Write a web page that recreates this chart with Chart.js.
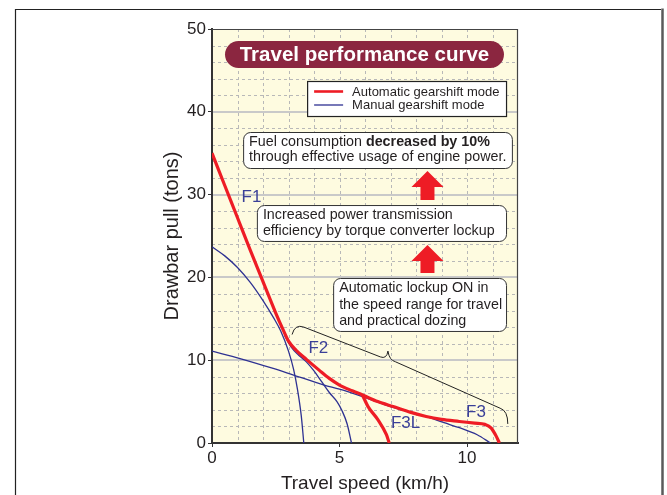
<!DOCTYPE html>
<html>
<head>
<meta charset="utf-8">
<script src="https://cdn.jsdelivr.net/npm/chart.js@4.4.1/dist/chart.umd.min.js"></script>
<style>
  html, body { margin: 0; padding: 0; background: #fff; }
  canvas { display: block; }
</style>
</head>
<body>
<canvas id="chart" width="667" height="495"></canvas>
<script>
// Travel performance curve : drawbar pull (tons) vs travel speed (km/h)

const FONT = "'Liberation Sans', Arial, Helvetica, sans-serif";

// Automatic gearshift mode (red) : F1 -> F2 -> F3 envelope
const autoSpeed = [0, 0.5, 1.0, 1.5, 2.0, 2.5, 2.8, 3.0, 3.3, 3.7, 4.2, 4.6, 5.0, 5.5, 5.9, 6.5, 7.1, 7.8, 8.4, 9.0, 9.7, 10.3, 10.7, 10.95, 11.15, 11.27];
const autoPull  = [35, 31.1, 27.2, 23.3, 19.5, 15.7, 13.6, 12.3, 11.2, 10.1, 8.8, 7.8, 7.0, 6.3, 5.8, 5.0, 4.4, 3.7, 3.2, 2.85, 2.6, 2.4, 2.25, 1.8, 0.8, 0];
// Automatic gearshift mode : F3L branch
const autoF3LSpeed = [5.9, 6.12, 6.51, 6.84, 6.95];
const autoF3LPull  = [5.8, 4.4, 2.8, 1.0, 0];

// Manual gearshift mode (blue)
const manF1Speed = [0, 0.5, 1.0, 1.5, 2.0, 2.4, 2.7, 3.0, 3.2, 3.35, 3.5, 3.6];
const manF1Pull  = [23.7, 22.6, 21.2, 19.4, 17.2, 15.2, 13.5, 11.1, 8.9, 6.5, 3.3, 0];
const manF2Speed = [2.85, 3.1, 3.4, 3.7, 4.0, 4.3, 4.6, 4.9, 5.1, 5.3, 5.47];
const manF2Pull  = [13.0, 11.6, 10.6, 9.8, 8.7, 7.4, 6.1, 5.0, 3.9, 2.3, 0];
const manF3Speed = [0, 1.1, 2.4, 3.2, 4.4, 5.0, 5.9, 7.0, 8.4, 9.1, 9.7, 10.4, 10.92];
const manF3Pull  = [11.1, 10.2, 9.0, 8.2, 7.0, 6.5, 5.6, 4.4, 3.2, 2.45, 1.85, 1.0, 0];

// Axes
const xTicks = [0, 5, 10];
const yTicks = [0, 10, 20, 30, 40, 50];

// Texts
const chartTitle  = 'Travel performance curve';
const modeNames   = ['Automatic gearshift mode', 'Manual gearshift mode'];
const gearNames   = ['F1', 'F2', 'F3L', 'F3'];
const boxTexts = [
  [[['Fuel consumption ', false], ['decreased by 10%', true]],
   [['through effective usage of engine power.', false]]],
  [[['Increased power transmission', false]],
   [['efficiency by torque converter lockup', false]]],
  [[['Automatic lockup ON in', false]],
   [['the speed range for travel', false]],
   [['and practical dozing', false]]]
];

const RED  = '#ee1c25';
const BLUE = '#2e3192';
const INK  = '#231f20';

const pts = (xs, ys) => xs.map((x, i) => ({ x, y: ys[i] }));

// Layout of annotations, in data units (speed, pull)
const layout = {
  title:  { x0: 0.51, x1: 11.45, y0: 48.55, y1: 45.29 },
  legend: { x0: 3.73, x1: 11.57, y0: 43.72, y1: 39.37 },
  boxes: [
    { x0: 1.22, x1: 11.80, y0: 37.56, y1: 33.09, lh: 15.3 },
    { x0: 1.76, x1: 11.57, y0: 28.74, y1: 24.28, lh: 15.7 },
    { x0: 4.75, x1: 11.57, y0: 19.93, y1: 13.41, lh: 16.7 }
  ],
  arrows: [
    { x: 8.45, tip: 32.85, base: 29.35 },
    { x: 8.45, tip: 23.91, base: 20.53 }
  ],
  gears: [ [1.55, 29.67], [4.17, 11.44], [7.59, 2.38], [10.35, 3.66] ],
  brace: [[3.14, 13.1], [3.25, 14.4], [3.6, 14.0], [6.6, 10.4], [6.85, 10.1], [6.9, 11.1],
          [6.95, 10.0], [7.2, 9.8], [11.3, 4.2], [11.6, 3.9], [11.6, 2.3]]
};

function roundRect(ctx, x, y, w, h, r) {
  ctx.beginPath();
  ctx.moveTo(x + r, y);
  ctx.arcTo(x + w, y, x + w, y + h, r);
  ctx.arcTo(x + w, y + h, x, y + h, r);
  ctx.arcTo(x, y + h, x, y, r);
  ctx.arcTo(x, y, x + w, y, r);
  ctx.closePath();
}

// ----- background, frame, grid -----
const backdrop = {
  id: 'backdrop',
  beforeDraw(chart) {
    const { ctx, chartArea: a, scales: { x, y } } = chart;
    ctx.save();
    ctx.fillStyle = '#fff';
    ctx.fillRect(0, 0, chart.width, chart.height);

    // outer frame
    ctx.strokeStyle = '#222';
    ctx.lineWidth = 1.2;
    ctx.beginPath();
    ctx.moveTo(15.5, 500); ctx.lineTo(15.5, 9.5); ctx.lineTo(661, 9.5);
    ctx.stroke();
    ctx.strokeStyle = '#5a5a5a';
    ctx.lineWidth = 2.5;
    ctx.beginPath();
    ctx.moveTo(662.5, 8.5); ctx.lineTo(662.5, 500);
    ctx.stroke();

    // plot background
    ctx.fillStyle = '#fefbe0';
    ctx.fillRect(a.left, a.top, a.right - a.left, a.bottom - a.top);

    // dashed minor grid
    ctx.strokeStyle = '#b8b8b8';
    ctx.lineWidth = 1;
    ctx.setLineDash([3, 3]);
    ctx.beginPath();
    for (let v = 1; v < x.max; v++) {
      const px = Math.round(x.getPixelForValue(v)) + 0.5;
      ctx.moveTo(px, a.top); ctx.lineTo(px, a.bottom);
    }
    for (let v = 2; v < y.max; v += 2) {
      if (v % 10 === 0) continue;
      const py = Math.round(y.getPixelForValue(v)) + 0.5;
      ctx.moveTo(a.left, py); ctx.lineTo(a.right, py);
    }
    ctx.stroke();
    ctx.setLineDash([]);

    // solid major lines
    ctx.strokeStyle = '#c9c9c9';
    ctx.lineWidth = 2;
    ctx.beginPath();
    yTicks.forEach(v => {
      if (v === y.min || v === y.max) return;
      const py = Math.round(y.getPixelForValue(v));
      ctx.moveTo(a.left, py); ctx.lineTo(a.right, py);
    });
    ctx.stroke();
    ctx.restore();
  },
  afterDatasetsDraw(chart) {
    const { ctx, chartArea: a } = chart;
    ctx.save();
    ctx.strokeStyle = '#444';
    ctx.lineWidth = 1.2;
    ctx.beginPath();
    ctx.moveTo(a.left, a.top + 0.5); ctx.lineTo(a.right - 0.5, a.top + 0.5); ctx.lineTo(a.right - 0.5, a.bottom);
    ctx.stroke();
    ctx.restore();
  }
};

// ----- title, legend, text boxes, arrows, brace, gear labels -----
const overlay = {
  id: 'overlay',
  afterDraw(chart) {
    const { ctx, scales: { x, y } } = chart;
    const px = v => x.getPixelForValue(v);
    const py = v => y.getPixelForValue(v);
    const rect = r => ({ l: px(r.x0), r: px(r.x1), t: py(r.y0), b: py(r.y1) });
    ctx.save();

    // title pill
    const T = rect(layout.title);
    const th = T.b - T.t;
    roundRect(ctx, T.l, T.t, T.r - T.l, th, th / 2);
    ctx.fillStyle = '#8b2640';
    ctx.fill();
    ctx.fillStyle = '#fff';
    ctx.font = `bold 20.5px ${FONT}`;
    ctx.textAlign = 'center';
    ctx.textBaseline = 'middle';
    ctx.fillText(chartTitle, (T.l + T.r) / 2, (T.t + T.b) / 2 + 1);

    // legend
    const L = rect(layout.legend);
    ctx.fillStyle = '#fff';
    ctx.fillRect(L.l, L.t, L.r - L.l, L.b - L.t);
    ctx.strokeStyle = '#222';
    ctx.lineWidth = 1.2;
    ctx.strokeRect(L.l + 0.5, L.t + 0.5, L.r - L.l - 1, L.b - L.t - 1);
    ctx.textAlign = 'left';
    ctx.font = `13px ${FONT}`;
    [[RED, 2.6], [BLUE, 1.3]].forEach(([c, w], i) => {
      const ly = L.t + 10.5 + i * 13.5;
      ctx.strokeStyle = c;
      ctx.lineWidth = w;
      ctx.beginPath();
      ctx.moveTo(L.l + 7, ly); ctx.lineTo(L.l + 36, ly);
      ctx.stroke();
      ctx.fillStyle = INK;
      ctx.fillText(modeNames[i], L.l + 45, ly + 0.5);
    });

    // text boxes
    layout.boxes.forEach((b, i) => {
      const R = rect(b);
      roundRect(ctx, R.l + 0.5, R.t + 0.5, R.r - R.l - 1, R.b - R.t - 1, 7);
      ctx.fillStyle = '#fff';
      ctx.fill();
      ctx.strokeStyle = '#333';
      ctx.lineWidth = 1;
      ctx.stroke();
      ctx.fillStyle = INK;
      boxTexts[i].forEach((line, j) => {
        let tx = R.l + 6;
        const ty = R.t + 10 + j * b.lh;
        line.forEach(([s, bold]) => {
          ctx.font = `${bold ? 'bold ' : ''}14.3px ${FONT}`;
          ctx.fillText(s, tx, ty);
          tx += ctx.measureText(s).width;
        });
      });
    });

    // red arrows
    ctx.fillStyle = RED;
    layout.arrows.forEach(a => {
      const cx = px(a.x), tip = py(a.tip), base = py(a.base);
      const head = tip + 16;
      ctx.beginPath();
      ctx.moveTo(cx, tip);
      ctx.lineTo(cx + 16, head);
      ctx.lineTo(cx + 7, head);
      ctx.lineTo(cx + 7, base);
      ctx.lineTo(cx - 7, base);
      ctx.lineTo(cx - 7, head);
      ctx.lineTo(cx - 16, head);
      ctx.closePath();
      ctx.fill();
    });

    // brace
    const B = layout.brace.map(([bx, by]) => [px(bx), py(by)]);
    ctx.strokeStyle = '#222';
    ctx.lineWidth = 1;
    ctx.beginPath();
    ctx.moveTo(...B[0]);
    ctx.quadraticCurveTo(...B[1], ...B[2]);
    ctx.lineTo(...B[3]);
    ctx.quadraticCurveTo(...B[4], ...B[5]);
    ctx.quadraticCurveTo(...B[6], ...B[7]);
    ctx.lineTo(...B[8]);
    ctx.quadraticCurveTo(...B[9], ...B[10]);
    ctx.stroke();

    // gear labels
    ctx.fillStyle = '#3a3f98';
    ctx.font = `17px ${FONT}`;
    ctx.textAlign = 'center';
    layout.gears.forEach(([gx, gy], i) => ctx.fillText(gearNames[i], px(gx), py(gy)));

    ctx.restore();
  }
};

const redLine  = { borderColor: RED,  borderWidth: 3.2, showLine: true, pointRadius: 0, cubicInterpolationMode: 'monotone' };
const blueLine = { borderColor: BLUE, borderWidth: 1.3, showLine: true, pointRadius: 0, cubicInterpolationMode: 'monotone' };

new Chart(document.getElementById('chart'), {
  type: 'scatter',
  data: {
    datasets: [
      { ...redLine,  label: modeNames[0], data: pts(autoSpeed, autoPull) },
      { ...redLine,  label: modeNames[0] + ' F3L', data: pts(autoF3LSpeed, autoF3LPull) },
      { ...blueLine, label: modeNames[1] + ' F1', data: pts(manF1Speed, manF1Pull) },
      { ...blueLine, label: modeNames[1] + ' F2', data: pts(manF2Speed, manF2Pull) },
      { ...blueLine, label: modeNames[1] + ' F3', data: pts(manF3Speed, manF3Pull) }
    ]
  },
  options: {
    responsive: false,
    animation: false,
    devicePixelRatio: 1,
    layout: { padding: { left: 156, right: 149, top: 29, bottom: 0 } },
    plugins: { legend: { display: false }, tooltip: { enabled: false } },
    scales: {
      x: {
        type: 'linear', min: 0, max: 12,
        afterBuildTicks: s => { s.ticks = xTicks.map(v => ({ value: v })); },
        afterFit: s => { s.height = 52; },
        ticks: { color: INK, font: { family: FONT, size: 17 }, padding: 1, maxRotation: 0 },
        grid: { drawOnChartArea: false, drawTicks: true, tickLength: 4, tickColor: '#333' },
        border: { display: true, color: '#333', width: 2 },
        title: { display: true, text: 'Travel speed (km/h)', color: INK,
                 font: { family: FONT, size: 19 }, padding: { top: 0, bottom: 0 } }
      },
      y: {
        type: 'linear', min: 0, max: 50,
        afterBuildTicks: s => { s.ticks = yTicks.map(v => ({ value: v })); },
        afterFit: s => { s.width = 56; },
        ticks: { color: INK, font: { family: FONT, size: 17 }, padding: 2 },
        grid: { drawOnChartArea: false, drawTicks: true, tickLength: 4, tickColor: '#333' },
        border: { display: true, color: '#333', width: 2 },
        title: { display: true, text: 'Drawbar pull (tons)', color: INK,
                 font: { family: FONT, size: 20 }, padding: { top: 4, bottom: 0 } }
      }
    }
  },
  plugins: [backdrop, overlay]
});
</script>
</body>
</html>
